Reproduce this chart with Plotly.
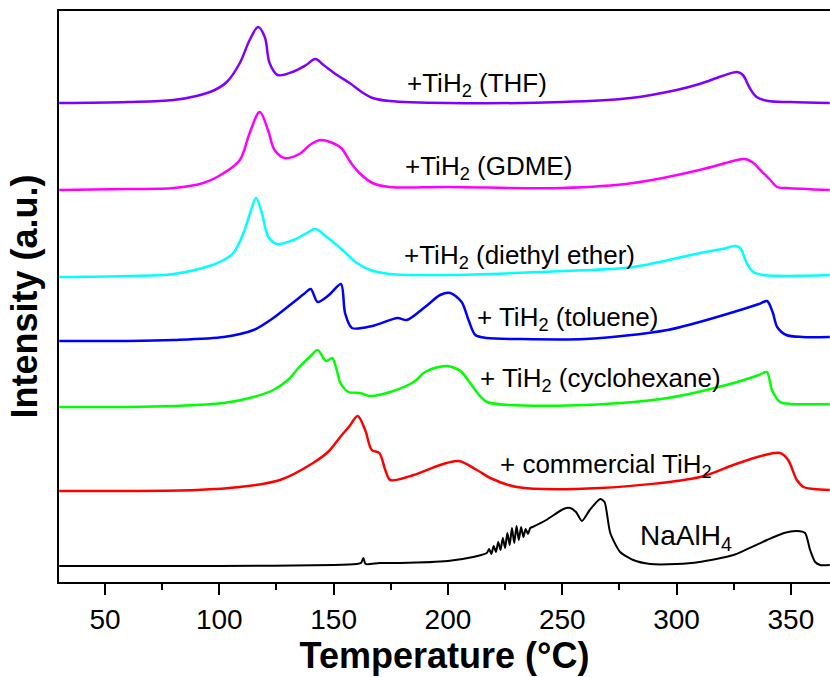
import plotly.graph_objects as go

# ---------------- data ----------------
thf_T = [30, 60, 80, 90, 98, 103.3, 109, 113.3, 117, 119.9, 122, 125.5, 132, 138, 142, 145.6, 151.5, 157, 163, 167, 174.5,
         200, 250, 280, 300, 310, 320, 326.5, 329, 332, 335, 340, 350, 367]
thf_I = [479, 480, 482, 486, 492, 500, 519, 542, 555, 545, 519, 507, 510, 517, 523, 517, 507, 499, 489, 484, 481,
         479, 480, 484, 492, 498, 506, 510, 507, 494, 485, 481, 480, 479]

gdme_T = [30, 60, 80, 93, 102, 109, 113.3, 117.7, 121.3, 124.2, 128.6, 135, 140.2, 144.5, 149.6, 153.3, 157.6, 161.3,
          167, 174.5, 200, 250, 281, 310, 324.8, 330, 333.6, 336.6, 341, 343.9, 348, 367]
gdme_I = [392, 393, 394, 399, 409, 422, 449, 470, 452, 432, 424, 428, 438, 442, 439, 434, 419, 409,
          399, 395, 395, 394, 399, 412, 421, 423, 419, 412, 402, 395, 394, 392]

ether_T = [30, 60, 80, 97, 101.9, 106.2, 110.6, 113.5, 116.1, 118.6, 121.5, 125.2, 132.5, 138.3, 142, 147, 152.9,
           160.2, 166, 174.8, 200, 250, 281, 310.3, 320, 325.6, 327.8, 330.7, 333.6, 338, 367]
ether_I = [305, 306, 308, 317, 322, 329, 349, 369, 384, 369, 345, 338, 342, 349, 353, 345, 334,
           319, 312, 308, 307, 311, 315, 329, 333, 336, 334, 319, 310, 307, 307]

tol_T = [30, 60, 80, 102, 115, 123.6, 132, 137, 140, 143, 148, 153.2, 155, 158, 167, 178, 182, 190, 196.6, 201,
         206, 209, 212, 217, 230, 260, 296, 325, 336, 339.6, 342, 344, 348, 355, 367]
tol_I = [241, 241, 242, 245, 252, 264, 279, 288, 293, 280, 287, 298, 269, 254, 256, 264, 262, 275, 287, 289,
         280, 262, 247, 244, 243, 243, 252, 270, 278, 281, 270, 255, 247, 245, 245]

cyc_T = [30, 60, 80, 102, 115, 123.6, 130, 135, 140, 143, 146.7, 149.4, 151, 153, 156.5, 161.6, 166, 174.7, 185,
         190, 196, 200, 204, 206, 211, 214, 217, 227, 260, 296, 325, 336, 339.5, 341.7, 345.3, 350, 367]
cyc_I = [175, 175, 176, 179, 185, 192, 202, 215, 226, 232, 221, 224, 215, 199, 190, 189, 186, 190, 200,
         210, 215, 216, 213, 210, 195, 186, 180, 177, 177, 184, 199, 207, 210, 192, 180, 178, 178]

com_T = [30, 60, 90, 109, 126.6, 141, 148, 152.9, 157, 160.5, 163.8, 166.7, 170, 172.6, 174.8, 185, 196.6, 204.6,
         212.7, 218.5, 230.2, 266.6, 310.3, 324.8, 337, 345.3, 348.8, 352.6, 355.5, 360, 367]
com_I = [91, 91, 92, 95, 102, 119, 131, 145, 156, 166, 152, 132, 129, 112, 102, 107, 117, 121,
         112, 104, 95, 94, 105, 117, 126, 129, 122, 102, 95, 93, 92]

na_T = [30, 100, 150, 160, 162, 163, 164, 170, 179, 200, 211, 217,
        218, 219, 220, 221, 222, 223, 224, 225, 226, 227, 228, 229, 230, 231, 232, 233, 234, 235, 236, 237,
        243, 250.5, 253.5, 256, 258.6, 262, 266.6, 268.5, 271, 275.3, 281, 288.5, 300, 310, 324.9, 339.5,
        347, 352.6, 356.2, 358.4, 360.6, 362.8, 367]
na_I = [16, 16, 17, 18, 19, 24, 18, 19, 19, 21, 25, 29,
        33, 28, 36, 30, 40, 32, 44, 34, 49, 37, 54, 39, 56, 42, 55, 45, 53, 48, 54, 55,
        62, 73, 74, 70, 61, 72, 83, 80, 49, 30, 22, 18, 18, 20, 27, 42,
        49, 51, 49, 32, 20, 17, 17]

series = [
    (thf_T, thf_I, "rgb(128,0,255)", 2.5, 1.0),
    (gdme_T, gdme_I, "rgb(255,0,255)", 2.5, 1.0),
    (ether_T, ether_I, "rgb(0,255,255)", 2.5, 1.0),
    (tol_T, tol_I, "rgb(0,0,255)", 2.5, 0.8),
    (cyc_T, cyc_I, "rgb(0,255,0)", 2.5, 0.8),
    (com_T, com_I, "rgb(255,0,0)", 2.5, 0.9),
    (na_T, na_I, "rgb(0,0,0)", 2.0, 0.6),
]

labels = ["+TiH<sub>2</sub> (THF)", "+TiH<sub>2</sub> (GDME)", "+TiH<sub>2</sub> (diethyl ether)",
          "+ TiH<sub>2</sub> (toluene)", "+ TiH<sub>2</sub> (cyclohexane)", "+ commercial TiH<sub>2</sub>",
          "NaAlH<sub>4</sub>"]
label_T = [181.3, 180.4, 180.0, 211.9, 213.2, 222.0, 283.2]
label_I = [498, 415, 326, 264, 203, 117, 45]
label_size = [26, 26, 26, 26, 26, 26, 28]

major_ticks = [50, 100, 150, 200, 250, 300, 350]
minor_ticks = [75, 125, 175, 225, 275, 325]

FONT = "Liberation Sans, Arial, sans-serif"

fig = go.Figure()
for T, I, c, w, s in series:
    fig.add_trace(go.Scatter(x=T, y=I, mode="lines",
                             line=dict(color=c, width=w, shape="spline", smoothing=s),
                             showlegend=False, hoverinfo="skip"))

for txt, tx, ty, fs in zip(labels, label_T, label_I, label_size):
    fig.add_annotation(x=tx, y=ty, xref="x", yref="y", text=txt, showarrow=False,
                       xanchor="left", yanchor="middle",
                       font=dict(family=FONT, size=fs, color="black"))

fig.update_layout(
    width=830, height=677,
    margin=dict(l=59, r=0, t=11, b=95),
    plot_bgcolor="white", paper_bgcolor="white",
    font=dict(family=FONT, color="black"),
    xaxis=dict(range=[29.9, 367.1], tickmode="array", tickvals=major_ticks,
               ticktext=[str(v) for v in major_ticks],
               ticks="outside", ticklen=11, tickwidth=2, tickcolor="black",
               minor=dict(tickmode="array", tickvals=minor_ticks, ticks="outside",
                          ticklen=6, tickwidth=2, tickcolor="black"),
               showline=True, linewidth=2, linecolor="black", mirror=True,
               showgrid=False, zeroline=False,
               tickfont=dict(family=FONT, size=28, color="black"),
               title=dict(text="<b>Temperature (°C)</b>", standoff=8,
                          font=dict(family=FONT, size=36, color="black"))),
    yaxis=dict(range=[0, 571], showline=True, linewidth=2, linecolor="black",
               showticklabels=False, ticks="", showgrid=False, zeroline=False,
               title=dict(text="<b>Intensity (a.u.)</b>", standoff=8,
                          font=dict(family=FONT, size=36, color="black"))),
)

fig.write_html("out.html")
